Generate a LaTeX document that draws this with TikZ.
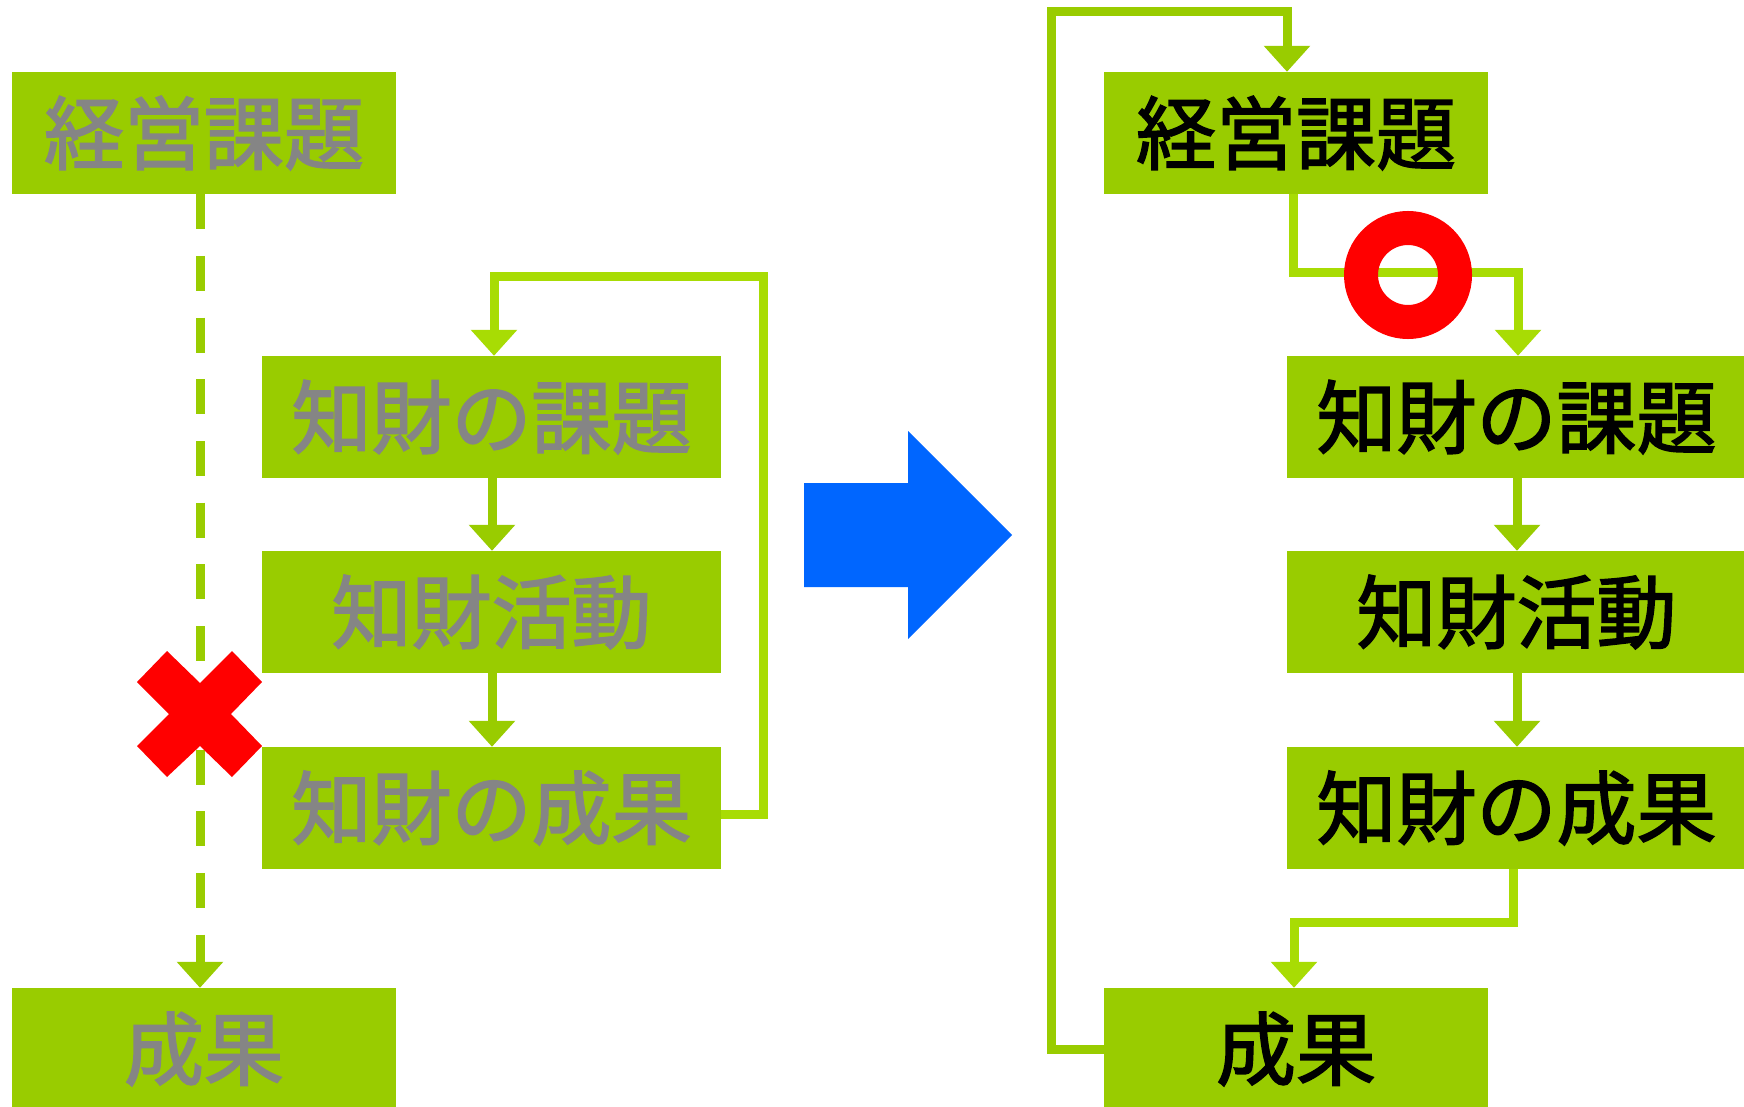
\documentclass[tikz,border=0pt]{standalone}
\usepackage{fontspec}
\newfontfamily\jpfont[FakeBold=2]{Noto Sans CJK JP}
\usetikzlibrary{arrows.meta}
\definecolor{boxg}{HTML}{99CC00}
\definecolor{lineg}{HTML}{A8DC04}
\definecolor{txtgray}{HTML}{858585}
\definecolor{blueA}{HTML}{0066FF}
\definecolor{redM}{HTML}{FF0000}
\begin{document}
\begin{tikzpicture}[x=1pt,y=-1pt,
  box/.style={fill=boxg, inner sep=0pt, minimum height=122pt, font=\jpfont\fontsize{80}{96}\selectfont},
  narrowbox/.style={box, minimum width=384pt},
  widebox/.style={box, minimum width=459pt},
  graytext/.style={text=txtgray},
  blacktext/.style={text=black},
  conn/.style={draw=boxg, line width=9pt, -{Triangle[width=45pt,length=26pt]}},
  loopconn/.style={draw=lineg, line width=9pt, -{Triangle[width=45pt,length=26pt]}},
  dashconn/.style={conn, dash pattern=on 35pt off 26.7pt}]
\useasboundingbox (0,0) rectangle (1744,1107);
\fill[white] (0,0) rectangle (1744,1107);

% left column
\node[narrowbox, graytext] (A) at (204,133) {経営課題};
\node[widebox, graytext] (B) at (491.5,417) {知財の課題};
\node[widebox, graytext] (C) at (491.5,612) {知財活動};
\node[widebox, graytext] (D) at (491.5,808) {知財の成果};
\node[narrowbox, graytext] (E) at (204,1049) {成果};

% right column
\node[narrowbox, blacktext] (F) at (1296,133) {経営課題};
\node[widebox, blacktext] (G) at (1516.5,417) {知財の課題};
\node[widebox, blacktext] (H) at (1516.5,612) {知財活動};
\node[widebox, blacktext] (I) at (1516.5,808) {知財の成果};
\node[narrowbox, blacktext] (J) at (1296,1049) {成果};

% left connectors
\draw[dashconn] ([xshift=-4pt]A.south) -- ([xshift=-4pt]E.north);
\draw[conn] ([xshift=0.5pt]B.south) -- ([xshift=0.5pt]C.north);
\draw[conn] ([xshift=0.5pt]C.south) -- ([xshift=0.5pt]D.north);
\coordinate (lcorner) at (763,276);
\draw[loopconn] ([yshift=-6pt]D.east) -| (lcorner) -| ([xshift=2.5pt]B.north);

% right connectors
\coordinate (rcorner) at (1051,12);
\draw[conn] (J.west) -| (rcorner) -| ([xshift=-9pt]F.north);
\draw[loopconn] ([xshift=-3pt]F.south) -- ++(0,78) -| ([xshift=1.5pt]G.north);
\draw[conn] ([xshift=0.5pt]G.south) -- ([xshift=0.5pt]H.north);
\draw[conn] ([xshift=0.5pt]H.south) -- ([xshift=0.5pt]I.north);
\draw[loopconn] ([xshift=-3.5pt]I.south) -- ++(0,53.5) -| ([xshift=-2pt]J.north);

% red cross
\fill[redM] (167,651) -- (200,683) -- (232,651) -- (262,682) -- (231,714) -- (262,746)
  -- (232,777) -- (200,746) -- (167,777) -- (137,746) -- (169,714) -- (137,682) -- cycle;

% red ring
\draw[redM, line width=34pt] (1408,275) circle[radius=47pt];

% blue arrow
\fill[blueA] (804,483) -- (908,483) -- (908,431) -- (1012,535) -- (908,639) -- (908,587) -- (804,587) -- cycle;
\end{tikzpicture}
\end{document}
